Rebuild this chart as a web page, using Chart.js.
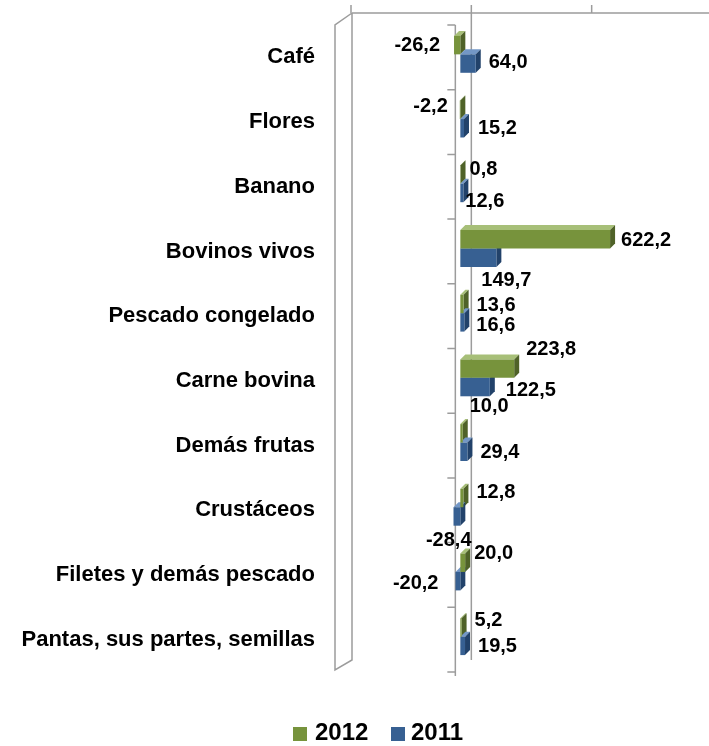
<!DOCTYPE html>
<html>
<head>
<meta charset="utf-8">
<script src="https://cdn.jsdelivr.net/npm/chart.js@4.4.0/dist/chart.umd.min.js"></script>
<style>
html, body { margin: 0; padding: 0; background: #fff; }
#wrap { position: relative; width: 709px; height: 746px; }
.box { position: absolute; width: 14px; height: 14px; }
.txt { position: absolute; font: bold 24px Arial, "Liberation Sans", sans-serif; line-height: 24px; color: #000; }
</style>
</head>
<body>
<div id="wrap">
    <canvas id="grafik" width="709" height="746"></canvas>
    <span class="box" style="left:293px; top:727px; background:#77933C;"></span>
    <span class="txt" style="left:315px; top:720px;">2012</span>
    <span class="box" style="left:391px; top:727px; background:#376092;"></span>
    <span class="txt" style="left:411px; top:720px;">2011</span>
</div>
<script>
// Data
const categories = [
    "Café", "Flores", "Banano", "Bovinos vivos", "Pescado congelado",
    "Carne bovina", "Demás frutas", "Crustáceos", "Filetes y demás pescado",
    "Pantas, sus partes, semillas"
];
const values2012 = [-26.2, -2.2, 0.8, 622.2, 13.6, 223.8, 10.0, 12.8, 20.0, 5.2];
const values2011 = [64.0, 15.2, 12.6, 149.7, 16.6, 122.5, 29.4, -28.4, -20.2, 19.5];
const axisMin = -500;
const axisMax = 1000;
const axisTicks = [-500, 0, 500, 1000];

const fontFamily = "Arial, 'Liberation Sans', sans-serif";
const depth = 5;   // kedalaman efek 3D
const barLift = 3; // batang sedikit naik dari tengah kategori

// Warna sisi 3D untuk tiap seri
const faceColors = [
    { top: "#A7BF78", side: "#4F6228" },
    { top: "#7397C6", side: "#22426A" }
];

// Geser posisi label (dx, dy) supaya mirip susunan aslinya
const labelNudge = [
    [[-10, -3], [-8, -6], [0, -8], [2, -2], [4, -1], [3, -22], [-2, -30], [4, -9], [0, -12], [4, -10]],
    [[4, -4], [5, -3], [-7, 6], [-24, 20], [3, 0], [7, 0], [4, -2], [22, 21], [-13, -1], [4, -2]]
];

function barBox(el) {
    const p = el.getProps(["x", "y", "base", "height"], true);
    return {
        left: Math.min(p.x, p.base),
        right: Math.max(p.x, p.base),
        top: p.y - p.height / 2,
        bottom: p.y + p.height / 2,
        y: p.y
    };
}

// Dinding, sumbu dan sisi samping batang
const walls3d = {
    id: "walls3d",
    beforeDatasetsDraw(chart) {
        const ctx = chart.ctx;
        const area = chart.chartArea;
        const xs = chart.scales.x;
        const x0 = xs.getPixelForValue(0);
        const bx = 12, by = -12;

        ctx.save();
        ctx.strokeStyle = "#9c9c9c";
        ctx.lineWidth = 1.5;

        // dinding belakang: garis atas + tanda grid
        ctx.beginPath();
        ctx.moveTo(area.left + bx, area.top + by);
        ctx.lineTo(chart.width, area.top + by);
        axisTicks.forEach((v) => {
            const px = xs.getPixelForValue(v) + bx - 1;
            ctx.moveTo(px, area.top + by - 8);
            ctx.lineTo(px, area.top + by);
        });
        // garis nol belakang
        ctx.moveTo(x0 + bx - 1, area.top + by);
        ctx.lineTo(x0 + bx - 1, area.bottom + by);
        // dinding kiri
        ctx.moveTo(area.left + bx, area.top + by);
        ctx.lineTo(area.left + bx, area.bottom + by);
        ctx.lineTo(area.left - 5, area.bottom - 2);
        ctx.lineTo(area.left - 5, area.top);
        ctx.lineTo(area.left + bx, area.top + by);
        ctx.stroke();

        // sumbu kategori depan
        const ax = x0 - 5;
        ctx.beginPath();
        ctx.moveTo(ax, area.top);
        ctx.lineTo(ax, area.bottom + 4);
        const n = categories.length;
        for (let i = 0; i <= n; i++) {
            const py = area.top + (area.bottom - area.top) * i / n;
            ctx.moveTo(ax - 8, py);
            ctx.lineTo(ax, py);
        }
        ctx.stroke();
        ctx.restore();

        // batang digambar sedikit lebih tinggi (dikembalikan di afterDatasetsDraw)
        ctx.save();
        ctx.translate(0, -barLift);

        // sisi atas dan kanan batang
        chart.data.datasets.forEach((ds, di) => {
            const meta = chart.getDatasetMeta(di);
            meta.data.forEach((el) => {
                const b = barBox(el);
                ctx.fillStyle = faceColors[di].top;
                ctx.beginPath();
                ctx.moveTo(b.left, b.top);
                ctx.lineTo(b.left + depth, b.top - depth);
                ctx.lineTo(b.right + depth, b.top - depth);
                ctx.lineTo(b.right, b.top);
                ctx.closePath();
                ctx.fill();
                ctx.fillStyle = faceColors[di].side;
                ctx.beginPath();
                ctx.moveTo(b.right, b.top);
                ctx.lineTo(b.right + depth, b.top - depth);
                ctx.lineTo(b.right + depth, b.bottom - depth);
                ctx.lineTo(b.right, b.bottom);
                ctx.closePath();
                ctx.fill();
            });
        });
    },
    afterDatasetsDraw(chart) {
        const ctx = chart.ctx;
        ctx.restore();

        ctx.save();
        ctx.font = "bold 20px " + fontFamily;
        ctx.fillStyle = "#000";
        ctx.textBaseline = "middle";
        chart.data.datasets.forEach((ds, di) => {
            const meta = chart.getDatasetMeta(di);
            meta.data.forEach((el, i) => {
                const v = ds.data[i];
                const b = barBox(el);
                const [dx, dy] = labelNudge[di][i];
                const text = v.toFixed(1).replace(".", ",");
                if (v >= 0) {
                    ctx.textAlign = "left";
                    ctx.fillText(text, b.right + depth + 4 + dx, b.y + dy);
                } else {
                    ctx.textAlign = "right";
                    ctx.fillText(text, b.left - 4 + dx, b.y + dy);
                }
            });
        });
        ctx.restore();
    }
};

new Chart(document.getElementById("grafik"), {
    type: "bar",
    data: {
        labels: categories,
        datasets: [
            {
                label: "2012",
                data: values2012,
                backgroundColor: "#77933C",
                barPercentage: 1.0,
                categoryPercentage: 0.57
            },
            {
                label: "2011",
                data: values2011,
                backgroundColor: "#376092",
                barPercentage: 1.0,
                categoryPercentage: 0.57
            }
        ]
    },
    options: {
        indexAxis: "y",
        responsive: false,
        animation: false,
        layout: { padding: { top: 25, bottom: 74, right: 8, left: 0 } },
        plugins: {
            legend: { display: false },
            tooltip: { enabled: false }
        },
        scales: {
            x: { display: false, min: axisMin, max: axisMax },
            y: {
                grid: { display: false, drawTicks: false },
                border: { display: false },
                ticks: {
                    color: "#000",
                    padding: 25,
                    font: { family: fontFamily, size: 22, weight: "bold" }
                },
                afterFit(scale) {
                    scale.width = 340;
                    // jangan biarkan padding label menggeser area grafik
                    scale.paddingTop = 0;
                    scale.paddingBottom = 0;
                }
            }
        }
    },
    plugins: [walls3d]
});
</script>
</body>
</html>
